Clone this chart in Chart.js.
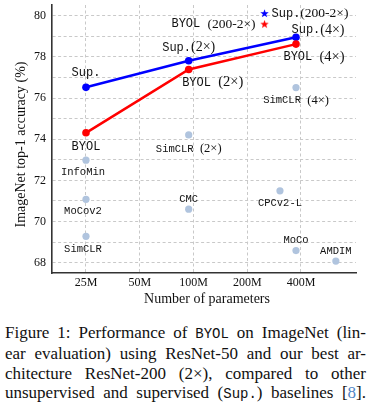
<!DOCTYPE html>
<html>
<head>
<meta charset="utf-8">
<script src="https://cdn.jsdelivr.net/npm/chart.js@4.4.1/dist/chart.umd.min.js"></script>
<style>
  html, body { margin: 0; padding: 0; background: #fff; }
  #wrap { position: relative; width: 375px; height: 310px; }
  #cap {
    position: absolute; left: 5px; top: 323px; width: 361px;
    font-family: "Liberation Serif", "Times New Roman", serif;
    font-size: 17px; line-height: 19.3px; color: #111;
  }
  #cap div { text-align: justify; text-align-last: justify; white-space: nowrap; }
  .tt { font-family: "Liberation Mono", monospace; font-size: 14px; }
  .ref { color: #4f86c6; }
</style>
</head>
<body>
<div id="wrap"><canvas id="ch_byol" width="375" height="310"></canvas></div>
<div id="cap">
  <div>Figure 1: Performance of <span class="tt">BYOL</span> on ImageNet (lin-</div>
  <div>ear evaluation) using ResNet-50 and our best ar-</div>
  <div>chitecture ResNet-200 (2&times;), compared to other</div>
  <div>unsupervised and supervised (<span class="tt">Sup.</span>) baselines [<span class="ref">8</span>].</div>
</div>
<script>
/* ── data (params in millions, top-1 accuracy in %) ─────────────── */
const supNames   = ['Sup.', 'Sup.(2×)', 'Sup.(4×)'];
const supParams  = [25, 94, 375];
const supAcc     = [76.52, 77.81, 78.95];

const byolNames  = ['BYOL', 'BYOL (2×)', 'BYOL (4×)'];
const byolParams = [25, 94, 375];
const byolAcc    = [74.31, 77.39, 78.62];

const bigNames   = ['Sup.(200-2×)', 'BYOL (200-2×)'];
const bigParams  = [250, 250];
const bigAcc     = [80.11, 79.59];

const otherNames  = ['InfoMin', 'MoCov2', 'SimCLR', 'SimCLR (2×)', 'CMC', 'SimCLR (4×)', 'CPCv2-L', 'MoCo', 'AMDIM'];
const otherParams = [25, 25, 25, 94, 94, 375, 305, 375, 627];
const otherAcc    = [72.98, 71.08, 69.28, 74.21, 70.60, 76.51, 71.49, 68.59, 68.08];

const xTicks = [25, 50, 100, 200, 400];
const yTicks = [68, 69, 70, 71, 72, 73, 74, 75, 76, 77, 78, 79, 80];

/* label placement relative to each point: [dx, dy, align] */
const supLabelPos   = [[0, -15, 'center'], [0, -13, 'center'], [22, -7, 'center']];
const byolLabelPos  = [[0, 14, 'center'], [24, 13, 'center'], [18, 13, 'center']];
const bigLabelPos   = [[7, 0, 'left'], [-9, 0, 'right']];
const otherLabelPos = [[-3, 12, 'center'], [-3, 12, 'center'], [-3, 13, 'center'], [0, 14, 'center'],
                       [0, -10, 'center'], [0, 13, 'center'], [0, 12.5, 'center'], [0, -10, 'center'], [0, -10, 'center']];

const MONO  = '"Liberation Mono", "DejaVu Sans Mono", monospace';
const SERIF = '"Liberation Serif", "Times New Roman", serif';

const pts = (xs, ys) => xs.map((v, i) => ({ x: v, y: ys[i] }));

// filled five-point star used as point style
function makeStar(color) {
  const c = document.createElement('canvas');
  c.width = 9; c.height = 9;
  const g = c.getContext('2d');
  g.beginPath();
  for (let k = 0; k < 10; k++) {
    const r = k % 2 === 0 ? 4.4 : 1.8;
    const a = -Math.PI / 2 + k * Math.PI / 5;
    g.lineTo(4.5 + r * Math.cos(a), 4.7 + r * Math.sin(a));
  }
  g.closePath();
  g.fillStyle = color;
  g.fill();
  return c;
}

function drawLabel(ctx, text, x, y, align, monoSize, serifSize) {
  const cut = text.indexOf('(');
  const a = cut < 0 ? text : text.slice(0, cut);
  const b = cut < 0 ? '' : text.slice(cut);
  ctx.font = `${monoSize}px ${MONO}`;
  const wa = ctx.measureText(a).width;
  ctx.font = `${serifSize}px ${SERIF}`;
  const wb = b ? ctx.measureText(b).width : 0;
  const w = wa + wb;
  let x0 = align === 'left' ? x : align === 'right' ? x - w : x - w / 2;
  ctx.font = `${monoSize}px ${MONO}`;
  ctx.fillText(a, x0, y);
  if (b) {
    ctx.font = `${serifSize}px ${SERIF}`;
    ctx.fillText(b, x0 + wa, y);
  }
}

const labelSets = [
  { names: supNames,   params: supParams,   acc: supAcc,   pos: supLabelPos,   mono: 12,   serif: 14 },
  { names: byolNames,  params: byolParams,  acc: byolAcc,  pos: byolLabelPos,  mono: 12,   serif: 14.5 },
  { names: bigNames,   params: bigParams,   acc: bigAcc,   pos: bigLabelPos,   mono: 12,   serif: 13.5 },
  { names: otherNames, params: otherParams, acc: otherAcc, pos: otherLabelPos, mono: 10.5, serif: 12.5 }
];

const labelPlugin = {
  id: 'pointLabels',
  afterDatasetsDraw(chart) {
    const { ctx, scales: { x, y }, chartArea } = chart;
    ctx.save();
    ctx.fillStyle = '#111';
    ctx.textBaseline = 'middle';
    labelSets.forEach(s => {
      s.names.forEach((n, i) => {
        const px = x.getPixelForValue(s.params[i]) + s.pos[i][0];
        const py = y.getPixelForValue(s.acc[i]) + s.pos[i][1];
        drawLabel(ctx, n, px, py, s.pos[i][2], s.mono, s.serif);
      });
    });
    // axis titles
    ctx.font = `14px ${SERIF}`;
    ctx.textAlign = 'center';
    ctx.fillText('Number of parameters', (chartArea.left + chartArea.right) / 2 + 3, 299);
    ctx.translate(21.5, 144.5);
    ctx.rotate(-Math.PI / 2);
    ctx.fillText('ImageNet top-1 accuracy (%)', 0, 0);
    ctx.restore();
  }
};

new Chart(document.getElementById('ch_byol').getContext('2d'), {
  type: 'scatter',
  data: {
    datasets: [
      {
        label: 'Others',
        data: pts(otherParams, otherAcc),
        backgroundColor: '#b0c4de',
        borderWidth: 0,
        pointRadius: 3.6,
        order: 3
      },
      {
        label: 'Sup.',
        data: pts(supParams, supAcc),
        showLine: true,
        borderColor: '#0000ff',
        backgroundColor: '#0000ff',
        borderWidth: 2.5,
        pointRadius: 3.8,
        pointBorderWidth: 0,
        order: 2
      },
      {
        label: 'BYOL',
        data: pts(byolParams, byolAcc),
        showLine: true,
        borderColor: '#ff0000',
        backgroundColor: '#ff0000',
        borderWidth: 2.5,
        pointRadius: 3.8,
        pointBorderWidth: 0,
        order: 1
      },
      {
        label: '200-2x',
        data: pts(bigParams, bigAcc),
        pointStyle: [makeStar('#0000ff'), makeStar('#ff0000')],
        pointRadius: 4,
        order: 0
      }
    ]
  },
  options: {
    responsive: false,
    animation: false,
    layout: { padding: { top: 5, right: 19, left: 0, bottom: 0 } },
    plugins: { legend: { display: false }, tooltip: { enabled: false } },
    scales: {
      x: {
        type: 'logarithmic',
        min: 16.13, max: 813,
        afterBuildTicks: axis => { axis.ticks = xTicks.map(v => ({ value: v })); },
        afterFit: s => { s.height = 37; s.paddingLeft = 0; s.paddingRight = 0; },
        ticks: {
          autoSkip: false, maxRotation: 0, padding: 2.5,
          color: '#111', font: { family: SERIF, size: 12 },
          callback: v => v + 'M'
        },
        grid: { color: '#c9c9c9', lineWidth: 1, drawTicks: false },
        border: { display: true, color: '#333', width: 1.6, dash: [3, 2.5] }
      },
      y: {
        min: 67.5, max: 80.52,
        afterBuildTicks: axis => { axis.ticks = yTicks.map(v => ({ value: v })); },
        afterFit: s => { s.width = 52; s.paddingTop = 0; s.paddingBottom = 0; },
        ticks: {
          autoSkip: false, padding: 6,
          color: '#111', font: { family: SERIF, size: 12 },
          callback: v => (v % 2 === 0 ? String(v) : '')
        },
        grid: { color: '#c9c9c9', lineWidth: 1, drawTicks: false },
        border: { display: true, color: '#333', width: 1.6, dash: [3, 2.5] }
      }
    }
  },
  plugins: [labelPlugin]
});
</script>
</body>
</html>
